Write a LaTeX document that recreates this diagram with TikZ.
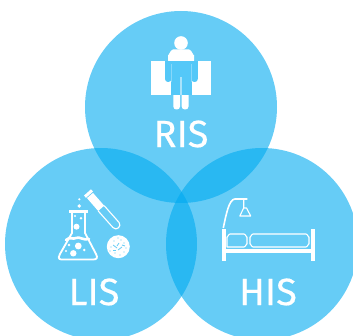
\documentclass[tikz,border=0pt]{standalone}
\usepackage{fontspec}
\setmainfont[FakeBold=0.4]{Fira Sans}
\usepackage{xcolor}
\definecolor{venncyan}{RGB}{0,170,240}
\definecolor{bodyblue}{RGB}{84,200,248}
\definecolor{discblue}{RGB}{102,204,246}
\usetikzlibrary{positioning,calc}
\tikzset{
	venn/.style={fill=venncyan, fill opacity=0.6, draw=none},
	caption/.style={text=white, font=\fontsize{38}{38}\selectfont, inner sep=0pt},
	icon/.style={draw=white, line width=1.1pt, line join=round},
	solid white/.style={fill=white, draw=none},
}
\begin{document}
\begin{tikzpicture}[x=1pt, y=-1pt]
	\useasboundingbox (0,0) rectangle (353,336);
	\clip (0,0) rectangle (353,336);
	\fill[venn] (181,107) circle (96pt);
	\fill[venn] (101,244) circle (96pt);
	\fill[venn] (262,244) circle (96pt);
	% RIS
	\fill[solid white] (151,61) rectangle (211,95);
	\fill[solid white] (181,43) circle (6.8pt);
	\fill[solid white] (168,61) -- (168,55) to[out=-90,in=180] (173,49.5) -- (189,49.5) to[out=0,in=-90] (194,55) -- (194,61) -- cycle;
	\fill[solid white, rounded corners=3pt] (173.3,90) rectangle (180,109.5);
	\fill[solid white, rounded corners=3pt] (181.7,90) rectangle (188.5,109.5);
	\fill[bodyblue] (171,61) rectangle (191.6,95);
	\fill[white, opacity=0.5] (180.2,77) rectangle (181.6,95);
	\fill[bodyblue, rounded corners=3pt] (165,61) rectangle (171.4,82);
	\fill[bodyblue] (165,61) rectangle (171.4,66);
	\fill[bodyblue, rounded corners=3pt] (191.2,61) rectangle (197.8,82);
	\fill[bodyblue] (191.2,61) rectangle (197.8,66);
	\fill[white, opacity=0.3] (171,64) rectangle (171.8,82);
	\fill[white, opacity=0.3] (190.8,64) rectangle (191.6,82);
	\node[caption] (ris) at (181,134) {RIS};
	% LIS
	\draw[icon, line width=1.8pt] (72,212) -- (72,233) -- (60,254) .. controls (57,259.5) and (60,259.5) .. (63,259.5) -- (93,259.5) .. controls (97,259.5) and (98,258) .. (96,254) -- (85,233) -- (85,212);
	\draw[white, line width=3pt] (69,211.5) -- (87.7,211.5);
	\draw[white, line width=2.6pt, line cap=round] (66,240) .. controls (70,236) and (73,240) .. (76,238) .. controls (79,236) and (84,241) .. (89,239);
	\foreach \bx/\by/\br in {79.3/199.3/1.2, 79.3/206/1.9, 75/216/1.2, 81/218.3/1.4, 76.5/226.7/3, 73.3/253.3/3.2, 78.3/246/3.4, 69/245/1.3, 84.3/250/1.4, 66/251/1.2}
		\fill[white] (\bx,\by) circle (\br pt);
	\draw[white, line width=3pt] (85,196.7) -- (92,190.4);
	\fill[white] (93,192.9) -- (87,198.1) -- (98.2,211) -- (104.2,205.7) -- cycle;
	\draw[icon] (98.2,211) -- (113,227.6) .. controls (116.3,231.4) and (122.3,226.1) .. (119,222.4) -- (104.2,205.7);
	\fill[white] (118.3,246.7) circle (11.5pt);
	\foreach \bx/\by in {111/247, 114/241, 118/238, 124/243, 126/248, 115/253, 120/255, 124/252, 110/251, 121/240}
		\fill[discblue] (\bx,\by) circle (0.7pt);
	\foreach \bx/\by/\ex/\ey in {113/245/117/248, 118/250/122/247, 119/243/117/246, 122/245/125/246, 113/250/116/250}
		\draw[discblue, line width=0.8pt] (\bx,\by) -- (\ex,\ey);
	% HIS
	\fill[solid white] (222,229) rectangle (225.7,261);
	\fill[solid white] (310.7,229) rectangle (315,261);
	\fill[solid white] (222,249) rectangle (315,253);
	\draw[icon] (227,247) -- (227,237) to[out=-90,in=180] (230,234) -- (244,234) to[out=0,in=-90] (247,237) -- (247,244) to[out=90,in=0] (244,247) -- cycle;
	\draw[icon] (250,237) to[out=-90,in=180] (253,234) -- (306,234) to[out=0,in=-90] (309,237) -- (309,244) to[out=90,in=0] (306,247) -- (253,247) to[out=180,in=90] (250,244) -- cycle;
	\draw[icon, line width=1.6pt] (223.3,228) .. controls (226,215) and (229,199) .. (235,199) -- (247.3,199);
	\draw[icon] (243.7,199) -- (243.7,208) -- (239.8,216) -- (250.7,216) -- (246.5,208) -- (243.7,208);
	\node[caption] (lis) at (94,292) {LIS};
	\node[caption] (his) at (268,292) {HIS};
\end{tikzpicture}
\end{document}
